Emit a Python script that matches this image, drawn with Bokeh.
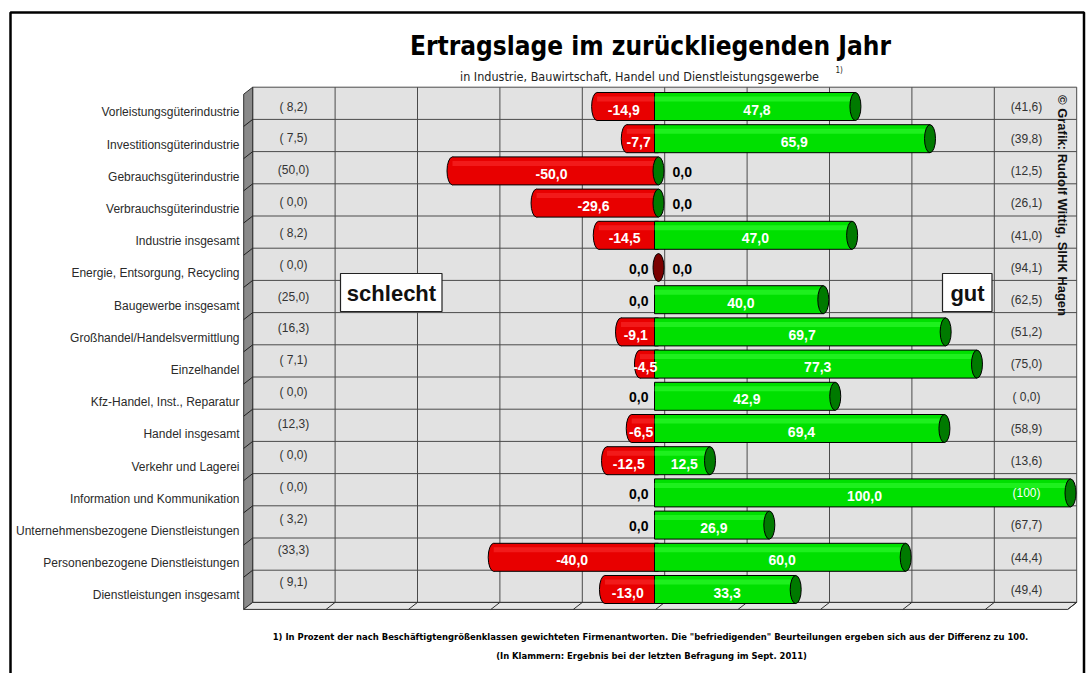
import math
from bokeh.plotting import figure
from bokeh.models import Range1d
from bokeh.core.properties import value
from bokeh.embed import file_html
from bokeh.resources import INLINE

# ---------------- data ----------------
categories = [
    "Vorleistungsgüterindustrie",
    "Investitionsgüterindustrie",
    "Gebrauchsgüterindustrie",
    "Verbrauchsgüterindustrie",
    "Industrie insgesamt",
    "Energie, Entsorgung, Recycling",
    "Baugewerbe insgesamt",
    "Großhandel/Handelsvermittlung",
    "Einzelhandel",
    "Kfz-Handel, Inst., Reparatur",
    "Handel insgesamt",
    "Verkehr und Lagerei",
    "Information und Kommunikation",
    "Unternehmensbezogene Dienstleistungen",
    "Personenbezogene Dienstleistungen",
    "Dienstleistungen insgesamt",
]
schlecht_now = [-14.9, -7.7, -50.0, -29.6, -14.5, 0.0, 0.0, -9.1, -4.5, 0.0, -6.5, -12.5, 0.0, 0.0, -40.0, -13.0]
gut_now = [47.8, 65.9, 0.0, 0.0, 47.0, 0.0, 40.0, 69.7, 77.3, 42.9, 69.4, 12.5, 100.0, 26.9, 60.0, 33.3]
schlecht_prev = [8.2, 7.5, 50.0, 0.0, 8.2, 0.0, 25.0, 16.3, 7.1, 0.0, 12.3, 0.0, 0.0, 3.2, 33.3, 9.1]
gut_prev = [41.6, 39.8, 12.5, 26.1, 41.0, 94.1, 62.5, 51.2, 75.0, 0.0, 58.9, 13.6, 100.0, 67.7, 44.4, 49.4]
grid_ticks = [-100, -80, -60, -40, -20, 0, 20, 40, 60, 80, 100]

title_text = "Ertragslage im zurückliegenden Jahr"
subtitle_text = "in Industrie, Bauwirtschaft, Handel und Dienstleistungsgewerbe"
subtitle_note = "1)"
footnote_1 = '1) In Prozent der nach Beschäftigtengrößenklassen gewichteten Firmenantworten. Die "befriedigenden" Beurteilungen ergeben sich aus der Differenz zu 100.'
footnote_2 = "(In Klammern: Ergebnis bei der letzten Befragung im Sept. 2011)"
credit_text = "© Grafik: Rudolf Wittig, SIHK Hagen"
label_bad = "schlecht"
label_good = "gut"

# ---------------- geometry helpers (page pixels -> data) ----------------
W, H = 1086, 673
PAGE = 0
ZERO_PX = 658.0
K = 4.12          # px per percentage point
ROW_H = 32.2      # px per row
ROW0_PY = 102.8   # page y of centre of first row (back wall)

x0 = (PAGE - ZERO_PX) / K
x1 = x0 + W / K
ytop = (PAGE - ROW0_PY) / ROW_H
ybot = ytop + H / ROW_H


def X(px):
    return (px - ZERO_PX) / K


def Y(py):
    return (py - ROW0_PY) / ROW_H


def dx(px):
    return px / K


def dy(py):
    return py / ROW_H


def fmt(v):
    return f"{v:.1f}".replace(".", ",")


def fmt_prev(v):
    if v >= 100:
        return "(100)"
    s = fmt(v)
    if v < 10:
        s = " " + s
    return "(" + s + ")"


SANS = value("Liberation Sans")
COND = value("DejaVu Sans Condensed")

p = figure(width=W, height=H, x_range=Range1d(x0, x1), y_range=Range1d(ybot, ytop),
           output_backend="svg", toolbar_location=None,
           x_axis_location=None, y_axis_location=None, min_border=0)
p.grid.visible = False
p.outline_line_color = None
p.background_fill_color = "white"
p.border_fill_color = "white"

n = len(categories)
rows = list(range(n))

# ---------------- 3D box: back wall, left wall, floor ----------------
D = dx(6.2)
xl = grid_ticks[0] + D
xr = grid_ticks[-1] + D
WX = dx(9)
WY = dy(7)
ytopw = -0.5
ybotw = n - 0.5

p.quad(left=xl, right=xr, top=ytopw, bottom=ybotw, fill_color="#e2e2e2", line_color=None)
p.segment(x0=[t + D for t in grid_ticks], y0=ytopw, x1=[t + D for t in grid_ticks], y1=ybotw,
          line_color="#4a4a4a", line_width=1)
p.segment(x0=xl, y0=[i - 0.5 for i in range(n + 1)], x1=xr, y1=[i - 0.5 for i in range(n + 1)],
          line_color="#4a4a4a", line_width=1)
p.patch([xl, xl, xl - WX, xl - WX], [ytopw, ybotw, ybotw + WY, ytopw + WY],
        fill_color="#8a8a8a", line_color="#303030", line_width=1)
p.segment(x0=xl, y0=[i - 0.5 for i in range(1, n)], x1=xl - WX, y1=[i - 0.5 + WY for i in range(1, n)],
          line_color="#202020", line_width=1)
p.patch([xl, xr, xr - WX, xl - WX], [ybotw, ybotw, ybotw + WY, ybotw + WY],
        fill_color="#e6e6e6", line_color="#303030", line_width=1)
p.segment(x0=[t + D for t in grid_ticks[1:]], y0=ybotw, x1=[t + D - WX for t in grid_ticks[1:]], y1=ybotw + WY,
          line_color="#303030", line_width=1)

# ---------------- bars (cylinders) ----------------
BAR_DY = dy(3.2)
BH = dy(28)
CAP_W = dx(11)
yc = [i + BAR_DY for i in rows]

RED = "#e80000"
GREEN = "#00e000"
DKGREEN = "#007a00"
DKRED = "#7a0000"

ri = [i for i in rows if schlecht_now[i] < 0]
r_x = [schlecht_now[i] for i in ri]
r_y = [yc[i] for i in ri]
p.ellipse(x=r_x, y=r_y, width=CAP_W, height=BH, fill_color=RED, line_color="black", line_width=1)
p.quad(left=r_x, right=[0] * len(ri), top=[y - BH / 2 for y in r_y], bottom=[y + BH / 2 for y in r_y],
       fill_color=RED, line_color=None)
p.segment(x0=r_x, y0=[y - BH / 2 for y in r_y], x1=[0] * len(ri), y1=[y - BH / 2 for y in r_y],
          line_color="black", line_width=1)
p.segment(x0=r_x, y0=[y + BH / 2 for y in r_y], x1=[0] * len(ri), y1=[y + BH / 2 for y in r_y],
          line_color="black", line_width=1)
p.quad(left=r_x, right=[0] * len(ri), top=[y - BH / 2 + dy(4) for y in r_y],
       bottom=[y - BH / 2 + dy(9) for y in r_y], fill_color="#ff3a3a", fill_alpha=0.45, line_color=None)

gi = [i for i in rows if gut_now[i] > 0]
g_x = [gut_now[i] for i in gi]
g_y = [yc[i] for i in gi]
p.quad(left=[-dx(4)] * len(gi), right=g_x, top=[y - BH / 2 for y in g_y], bottom=[y + BH / 2 for y in g_y],
       fill_color=GREEN, line_color="black", line_width=1)
p.quad(left=[-dx(4)] * len(gi), right=g_x, top=[y - BH / 2 + dy(4) for y in g_y],
       bottom=[y - BH / 2 + dy(9) for y in g_y], fill_color="#3cff3c", fill_alpha=0.5, line_color=None)

cap_colors = [DKRED if (schlecht_now[i] == 0 and gut_now[i] == 0) else DKGREEN for i in rows]
p.ellipse(x=gut_now, y=yc, width=CAP_W, height=BH, fill_color=cap_colors, line_color="black", line_width=1)

# ---------------- bar value labels ----------------
LBL_DY = dy(3)
p.text(x=[v / 2 for v in g_x], y=[y + LBL_DY for y in g_y], text=[fmt(v) for v in g_x],
       text_color="white", text_font=SANS, text_font_style="bold", text_font_size="14px",
       text_align="center", text_baseline="middle")
p.text(x=[v / 2 - dx(4) for v in r_x], y=[y + LBL_DY for y in r_y], text=[fmt(v) for v in r_x],
       text_color="white", text_font=SANS, text_font_style="bold", text_font_size="14px",
       text_align="center", text_baseline="middle")
zr = [i for i in rows if schlecht_now[i] == 0]
p.text(x=[X(648)] * len(zr), y=[yc[i] + dy(1) for i in zr], text=[fmt(schlecht_now[i]) for i in zr],
       text_color="black", text_font=SANS, text_font_style="bold", text_font_size="14px",
       text_align="right", text_baseline="middle")
zg = [i for i in rows if gut_now[i] == 0]
p.text(x=[X(672)] * len(zg), y=[yc[i] + dy(1) for i in zg], text=[fmt(gut_now[i]) for i in zg],
       text_color="black", text_font=SANS, text_font_style="bold", text_font_size="14px",
       text_align="left", text_baseline="middle")

# ---------------- category labels ----------------
p.text(x=[X(239)] * n, y=[i + dy(9) for i in rows], text=categories,
       text_color="#2a2a2a", text_font=SANS, text_font_size="12px",
       text_align="right", text_baseline="middle")

# ---------------- previous values in brackets ----------------
p.text(x=[X(293)] * n, y=[Y(106) + i * dy(31.7) for i in rows], text=[fmt_prev(v) for v in schlecht_prev],
       text_color="#333333", text_font=SANS, text_font_size="12px",
       text_align="center", text_baseline="middle")
prev_good_colors = ["white" if gut_now[i] >= 90 else "#333333" for i in rows]
p.text(x=[X(1026)] * n, y=[i + dy(3.5) for i in rows], text=[fmt_prev(v) for v in gut_prev],
       text_color=prev_good_colors, text_font=SANS, text_font_size="12px",
       text_align="center", text_baseline="middle")

# ---------------- schlecht / gut boxes ----------------
p.quad(left=[X(340), X(942)], right=[X(441.5), X(991.5)], top=Y(273), bottom=Y(311),
       fill_color="white", line_color="#222222", line_width=1.2)
p.text(x=[X(391), X(967)], y=Y(293), text=[label_bad, label_good],
       text_color="#111111", text_font=SANS, text_font_style="bold", text_font_size="22px",
       text_align="center", text_baseline="middle")

# ---------------- credit (vertical) ----------------
p.text(x=X(1062), y=Y(205), text=[credit_text], angle=-math.pi / 2,
       text_color="#111111", text_font=SANS, text_font_style="bold", text_font_size="13px",
       text_align="center", text_baseline="middle")

# ---------------- titles & footnotes ----------------
p.text(x=X(650), y=Y(45), text=[title_text], text_color="black", text_font=COND,
       text_font_style="bold", text_font_size="26px", text_align="center", text_baseline="middle")
p.text(x=X(639), y=Y(76), text=[subtitle_text], text_color="#222222", text_font=COND,
       text_font_size="12.5px", text_align="center", text_baseline="middle")
p.text(x=X(835), y=Y(70), text=[subtitle_note], text_color="#222222", text_font=COND,
       text_font_size="8px", text_align="left", text_baseline="middle")
p.text(x=X(650), y=Y(636), text=[footnote_1], text_color="black", text_font=COND,
       text_font_style="bold", text_font_size="9.4px", text_align="center", text_baseline="middle")
p.text(x=X(651), y=Y(655), text=[footnote_2], text_color="black", text_font=COND,
       text_font_style="bold", text_font_size="9.4px", text_align="center", text_baseline="middle")

# ---------------- outer frame ----------------
p.quad(left=X(10), right=X(1083.5), top=Y(12), bottom=Y(720), fill_color=None,
       line_color="black", line_width=2.5)

open("out.html", "w").write(file_html(p, INLINE))
